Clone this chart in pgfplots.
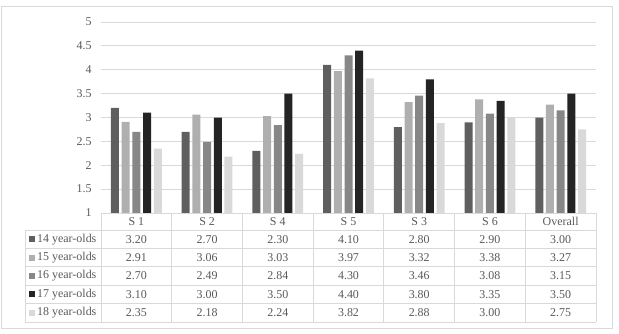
\documentclass[border=0pt]{standalone}
\usepackage{fontspec}
\setmainfont{Liberation Serif}
\usepackage{pgfplots}
\usepackage{pgfplotstable}
\pgfplotsset{compat=1.18}
\definecolor{cA}{HTML}{5F5F5F}
\definecolor{cB}{HTML}{AFAFAF}
\definecolor{cC}{HTML}{878787}
\definecolor{cD}{HTML}{242424}
\definecolor{cE}{HTML}{D9D9D9}
\definecolor{gridc}{HTML}{D9D9D9}
\definecolor{txt}{HTML}{595959}
\pgfplotstableread{
cat a b c d e
0 3.20 2.91 2.70 3.10 2.35
1 2.70 3.06 2.49 3.00 2.18
2 2.30 3.03 2.84 3.50 2.24
3 4.10 3.97 4.30 4.40 3.82
4 2.80 3.32 3.46 3.80 2.88
5 2.90 3.38 3.08 3.35 3.00
6 3.00 3.27 3.15 3.50 2.75
}\data
\begin{document}
\begin{tikzpicture}[x=1bp,y=1bp,font=\fontsize{12}{14}\selectfont]
\useasboundingbox (0,0) rectangle (619,333);
\draw[gridc,line width=0.8bp] (1,5) rectangle (612,327);
\begin{axis}[at={(101bp,120bp)}, anchor=south west, scale only axis,
  width=495bp, height=191bp, xmin=-0.5, xmax=6.5, ymin=1, ymax=5,
  ytick={1,1.5,2,2.5,3,3.5,4,4.5,5}, xtick=\empty,
  axis line style={draw=none}, major tick length=0pt,
  ymajorgrids, major grid style={gridc, line width=0.8bp},
  /pgf/number format/assume math mode=true,
  yticklabel style={font=\fontsize{12}{14}\selectfont, text=txt, xshift=-6bp},
  every axis plot/.append style={draw=none, bar width=8bp}]
\addplot[ybar, fill=cA, bar shift=-21.4bp] table[x=cat,y=a]{\data};
\addplot[ybar, fill=cB, bar shift=-10.7bp] table[x=cat,y=b]{\data};
\addplot[ybar, fill=cC, bar shift=0bp] table[x=cat,y=c]{\data};
\addplot[ybar, fill=cD, bar shift=10.7bp] table[x=cat,y=d]{\data};
\addplot[ybar, fill=cE, bar shift=21.4bp] table[x=cat,y=e]{\data};
\end{axis}
% data table
\draw[gridc,line width=0.8bp] (101,120) -- (596,120);
\foreach \yy in {103,84.6,66.2,47.8,29.4,11} {\draw[gridc,line width=0.8bp] (25,\yy) -- (596,\yy);}
\draw[gridc,line width=0.8bp] (25,11) -- (25,103);
\foreach \k in {0,...,7} {\pgfmathsetmacro\xx{101+70.714*\k}\draw[gridc,line width=0.8bp] (\xx,11) -- (\xx,120);}
\foreach \lab [count=\k from 0] in {S 1,S 2,S 4,S 5,S 3,S 6,Overall} {
  \pgfmathsetmacro\xx{101+70.714*(\k+0.5)}
  \node[text=txt,inner sep=0pt] at (\xx,111.5) {\lab};
}
\foreach \col/\c/\lab [count=\i from 0] in {a/cA/14 year-olds,b/cB/15 year-olds,c/cC/16 year-olds,d/cD/17 year-olds,e/cE/18 year-olds} {
  \pgfmathsetmacro\yc{103-9.2-18.4*\i}
  \fill[\c] (29,\yc-3) rectangle (35,\yc+3);
  \node[text=txt,anchor=west,inner sep=0pt] at (37,\yc) {\lab};
  \foreach \k in {0,...,6} {
    \pgfmathsetmacro\xx{101+70.714*(\k+0.5)}
    \node[text=txt,inner sep=0pt] at (\xx,\yc) {\pgfplotstablegetelem{\k}{\col}\of\data\pgfplotsretval};
  }
}
\end{tikzpicture}
\end{document}
